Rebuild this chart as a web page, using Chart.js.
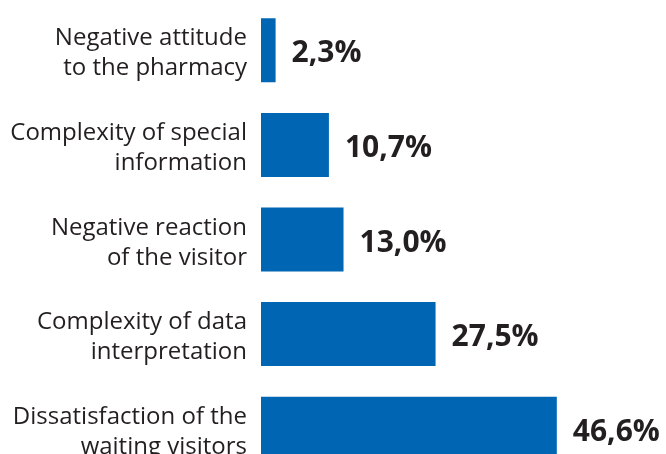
<!DOCTYPE html>
<html>
<head>
<meta charset="utf-8">
<script src="https://cdn.jsdelivr.net/npm/chart.js@4.4.1/dist/chart.umd.min.js"></script>
<style>
  html, body { margin: 0; padding: 0; background: #fff; overflow: hidden; }
  #wrap { width: 666px; height: 454px; overflow: hidden; }
</style>
</head>
<body>
<div id="wrap"><canvas id="bars" width="666" height="476"></canvas></div>
<script>
// reasons, two lines each, top to bottom
const reasons = [
    ["Negative attitude", "to the pharmacy"],
    ["Complexity of special", "information"],
    ["Negative reaction", "of the visitor"],
    ["Complexity of data", "interpretation"],
    ["Dissatisfaction of the", "waiting visitors"]
];
const shares = [2.3, 10.7, 13.0, 27.5, 46.6];

const barColor = '#0066b3';
const textColor = '#231f20';

function fmt(v)
{
    return v.toFixed(1).replace('.', ',') + '%';
}

// category names to the left of the bars, right aligned
const sideLabels = {
    id: 'sideLabels',
    afterDraw(chart)
    {
        const ctx = chart.ctx;
        const yScale = chart.scales.y;
        ctx.save();
        ctx.font = '24px "Open Sans"';
        ctx.fillStyle = textColor;
        ctx.textAlign = 'right';
        ctx.textBaseline = 'alphabetic';
        for(let i=0; i<reasons.length; i++)
        {
            const yc = yScale.getPixelForValue(i);
            ctx.fillText(reasons[i][0], 247, yc - 5);
            ctx.fillText(reasons[i][1], 247, yc + 25);
        }
        ctx.restore();
    }
};

// percentage right after each bar
const valueLabels = {
    id: 'valueLabels',
    afterDatasetsDraw(chart)
    {
        const ctx = chart.ctx;
        const meta = chart.getDatasetMeta(0);
        ctx.save();
        ctx.font = 'bold 30px "Open Sans"';
        ctx.fillStyle = textColor;
        ctx.textAlign = 'left';
        ctx.textBaseline = 'alphabetic';
        meta.data.forEach(function (bar, i)
        {
            ctx.fillText(fmt(shares[i]), bar.x + 16, bar.y + 12);
        });
        ctx.restore();
    }
};

new Chart(document.getElementById('bars').getContext('2d'), {
    type: 'bar',
    data: {
        labels: reasons,
        datasets: [
            {
                data: shares,
                backgroundColor: barColor,
                borderWidth: 0,
                categoryPercentage: 1,
                barPercentage: 0.677
            }
        ]
    },
    options: {
        indexAxis: 'y',
        responsive: false,
        animation: false,
        layout: { padding: { left: 261, right: 0, top: 3, bottom: 0 } },
        scales: {
            x: { display: false, min: 0, max: 63.8 },
            y: { display: false }
        },
        plugins: {
            legend: { display: false },
            tooltip: { enabled: false }
        }
    },
    plugins: [sideLabels, valueLabels]
});
</script>
</body>
</html>
